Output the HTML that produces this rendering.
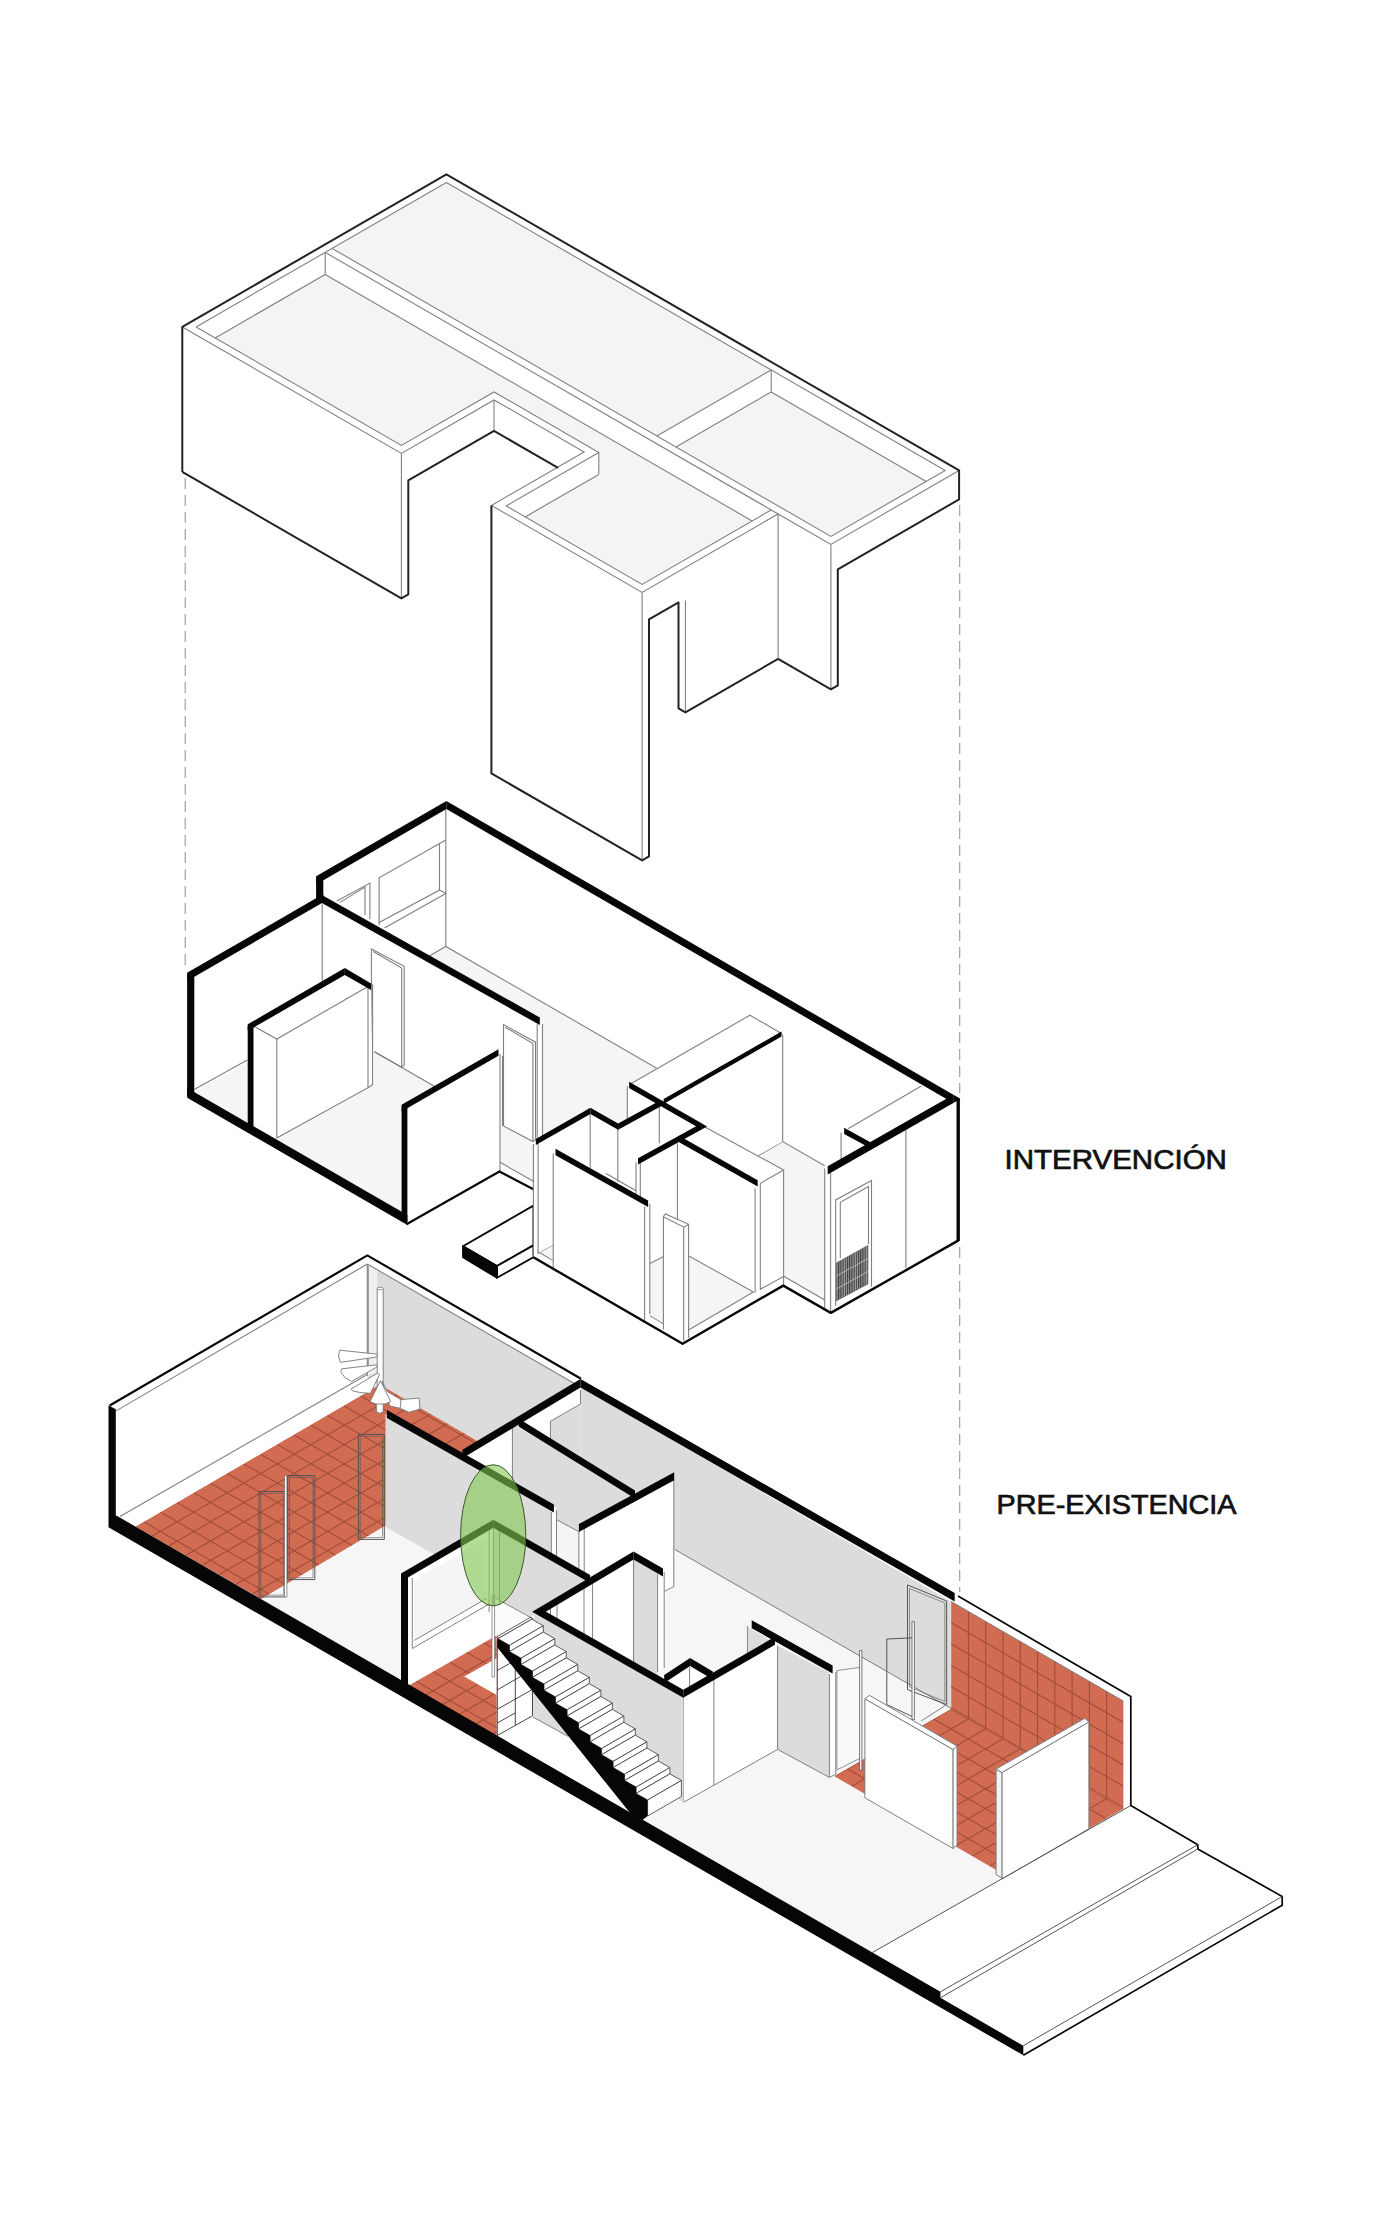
<!DOCTYPE html>
<html><head><meta charset="utf-8"><title>Axonometric</title>
<style>html,body{margin:0;padding:0;background:#fff}svg{display:block}text{font-family:"Liberation Sans",sans-serif}</style>
</head><body>
<svg width="1390" height="2229" viewBox="0 0 1390 2229">
<rect width="1390" height="2229" fill="#fff"/>
<polygon points="446.4,182.4 771.2,369.9 656.8,435.9 332.1,248.4" fill="#f4f4f4" stroke="none" stroke-width="1" />
<polygon points="771.2,391.9 926.2,481.4 830.9,536.4 675.9,446.9" fill="#f4f4f4" stroke="none" stroke-width="1" />
<polygon points="325.2,274.4 196.1,348.9 401.4,467.4 494,413.9 598.8,474.4 506.2,527.9 642.1,606.4 771.2,531.9" fill="#f4f4f4" stroke="none" stroke-width="1" />
<polygon points="196.1,326.9 401.4,445.4 401.4,468.9 196.1,350.4" fill="#fff" stroke="none" stroke-width="1" />
<polygon points="401.4,445.4 494,391.9 494,415.4 401.4,468.9" fill="#fff" stroke="none" stroke-width="1" />
<polygon points="494,391.9 598.8,452.4 598.8,475.9 494,415.4" fill="#fff" stroke="none" stroke-width="1" />
<polygon points="506.2,505.9 642.1,584.4 642.1,607.9 506.2,529.4" fill="#fff" stroke="none" stroke-width="1" />
<polygon points="642.1,584.4 771.2,509.9 771.2,533.4 642.1,607.9" fill="#fff" stroke="none" stroke-width="1" />
<polygon points="492.3,505.9 642.1,592.4 642.1,860.4 492.3,773.9" fill="#fff" stroke="none" stroke-width="1" />
<polyline points="182.3,326.9 401.4,453.4 494,399.9 584.1,451.9 491.4,505.4 642.1,592.4 778.1,513.9 830.9,544.4 959.1,470.4" fill="none" stroke="#808080" stroke-width="1.1" />
<polyline points="446.4,182.4 945.2,470.4 830.9,536.4 332.1,248.4" fill="none" stroke="#808080" stroke-width="1.1" />
<polyline points="196.1,326.9 446.4,182.4" fill="none" stroke="#808080" stroke-width="1.1" />
<polyline points="771.2,369.9 656.8,435.9" fill="none" stroke="#808080" stroke-width="1.1" />
<polyline points="771.2,369.9 771.2,391.9" fill="none" stroke="#808080" stroke-width="1.1" />
<polyline points="771.2,391.9 675.9,446.9" fill="none" stroke="#808080" stroke-width="1.1" />
<polyline points="771.2,391.9 926.2,481.4" fill="none" stroke="#808080" stroke-width="1.1" />
<polyline points="325.2,252.4 778.1,513.9" fill="none" stroke="#808080" stroke-width="1.1" />
<polyline points="325.2,252.4 325.2,274.4" fill="none" stroke="#808080" stroke-width="1.1" />
<polyline points="325.2,274.4 752.1,520.9" fill="none" stroke="#808080" stroke-width="1.1" />
<polyline points="325.2,274.4 215.2,337.9" fill="none" stroke="#808080" stroke-width="1.1" />
<polyline points="196.1,326.9 401.4,445.4 494,391.9 598.8,452.4 506.2,505.9 642.1,584.4 771.2,509.9" fill="none" stroke="#808080" stroke-width="1.1" />
<polyline points="598.8,452.4 598.8,474.4" fill="none" stroke="#808080" stroke-width="1.1" />
<polyline points="598.8,474.4 525.2,516.9" fill="none" stroke="#808080" stroke-width="1.1" />
<polyline points="401.4,453.4 401.4,598.4" fill="none" stroke="#808080" stroke-width="1.1" />
<polyline points="494,399.9 494,430.9" fill="none" stroke="#808080" stroke-width="1.1" />
<polyline points="642.1,592.4 642.1,860.4" fill="none" stroke="#808080" stroke-width="1.1" />
<polyline points="778.1,513.9 778.1,658.9" fill="none" stroke="#808080" stroke-width="1.1" />
<polyline points="830.9,544.4 830.9,689.4" fill="none" stroke="#808080" stroke-width="1.1" />
<polyline points="685.4,600.4 685.4,712.4" fill="none" stroke="#808080" stroke-width="1.1" />
<polyline points="182.3,471.9 182.3,326.9 446.4,174.4 959.1,470.4 959.1,499.4 837.8,569.4 837.8,685.4 830.9,689.4 778.1,658.9" fill="none" stroke="#222" stroke-width="2" stroke-linejoin="round"/>
<polyline points="182.3,471.9 401.4,598.4 408.3,594.4 408.3,480.4 494,430.9 558.1,467.9" fill="none" stroke="#222" stroke-width="2" stroke-linejoin="round"/>
<polyline points="491.4,505.4 491.4,773.4 642.1,860.4 649,856.4 649,619.4 679,602.1" fill="none" stroke="#222" stroke-width="2" stroke-linejoin="round"/>
<polyline points="678.5,602.1 678.5,708.4 685.4,712.4 778.1,658.9" fill="none" stroke="#222" stroke-width="2" stroke-linejoin="round"/>
<polyline points="185.2,478 185.2,966" fill="none" stroke="#999" stroke-width="1.1" stroke-dasharray="11 6"/>
<polyline points="959.7,505 959.7,1093" fill="none" stroke="#999" stroke-width="1.1" stroke-dasharray="11 6"/>
<polygon points="118,1517.5 367.3,1375 951.3,1709 1123.4,1808.2 1130.2,1806 871.5,1953" fill="#f6f6f6" stroke="none" stroke-width="1" />
<polygon points="135.4,1526.6 379.9,1384.6 503.5,1455.9 261,1599" fill="#d16b52" stroke="none" stroke-width="1" />
<clipPath id="cR1"><polygon points="135.4,1526.6 379.9,1384.6 503.5,1455.9 261,1599"/></clipPath>
<g clip-path="url(#cR1)" stroke="#a04e3a" stroke-width="1.1" fill="none">
<line x1="143.7" y1="1521.8" x2="490.1" y2="1721.8"/>
<line x1="160.4" y1="1512.1" x2="506.8" y2="1712.1"/>
<line x1="177.1" y1="1502.5" x2="523.6" y2="1702.5"/>
<line x1="193.9" y1="1492.8" x2="540.3" y2="1692.8"/>
<line x1="210.6" y1="1483.2" x2="557" y2="1683.2"/>
<line x1="227.3" y1="1473.5" x2="573.7" y2="1673.5"/>
<line x1="244" y1="1463.9" x2="590.4" y2="1663.9"/>
<line x1="260.7" y1="1454.2" x2="607.1" y2="1654.2"/>
<line x1="277.4" y1="1444.6" x2="623.8" y2="1644.6"/>
<line x1="294.1" y1="1434.9" x2="640.6" y2="1634.9"/>
<line x1="310.9" y1="1425.3" x2="657.3" y2="1625.3"/>
<line x1="327.6" y1="1415.6" x2="674" y2="1615.6"/>
<line x1="344.3" y1="1406" x2="690.7" y2="1606"/>
<line x1="361" y1="1396.3" x2="707.4" y2="1596.3"/>
<line x1="377.7" y1="1386.7" x2="724.1" y2="1586.7"/>
<line x1="394.4" y1="1377" x2="740.8" y2="1577"/>
<line x1="152.1" y1="1536.2" x2="498.5" y2="1336.2"/>
<line x1="168.8" y1="1545.9" x2="515.2" y2="1345.9"/>
<line x1="185.5" y1="1555.5" x2="532" y2="1355.5"/>
<line x1="202.3" y1="1565.2" x2="548.7" y2="1365.2"/>
<line x1="219" y1="1574.8" x2="565.4" y2="1374.8"/>
<line x1="235.7" y1="1584.5" x2="582.1" y2="1384.5"/>
<line x1="252.4" y1="1594.1" x2="598.8" y2="1394.1"/>
<line x1="269.1" y1="1603.8" x2="615.5" y2="1403.8"/>
</g>
<polygon points="109.7,1405.5 367.3,1255.4 367.3,1264 116.2,1410.9" fill="#fff" stroke="none" stroke-width="1" />
<polygon points="115.1,1411 367.3,1264 367.3,1374.2 120,1517" fill="#fff" stroke="none" stroke-width="1" />
<polyline points="116.2,1410.9 367.3,1264" fill="none" stroke="#808080" stroke-width="1.1" />
<polygon points="120,1517 367.6,1374.2 367.6,1391.7 135.4,1526.6 128,1522.5" fill="#fff" stroke="none" stroke-width="1" />
<polyline points="120,1516.6 367.6,1374.2" fill="none" stroke="#808080" stroke-width="1.1" />
<polygon points="367.3,1264 951.2,1601.5 951.2,1709 580,1496 580,1500 367.3,1377.3" fill="#dcdcdc" stroke="none" stroke-width="1" />
<polygon points="367.3,1264 377.2,1269.7 377.2,1372 367.3,1376" fill="#f0f0f0" stroke="none" stroke-width="1" />
<polyline points="368.4,1266 368.4,1372" fill="none" stroke="#808080" stroke-width="0.8" />
<polyline points="367.3,1264 367.3,1376" fill="none" stroke="#808080" stroke-width="1.1" />
<polygon points="367.3,1255.4 581,1378.7 580,1386.8 367.3,1264" fill="#fff" stroke="none" stroke-width="1" />
<polyline points="367.3,1264 580,1386.8" fill="none" stroke="#808080" stroke-width="1.1" />
<polyline points="674.9,1549.5 951.3,1708.5" fill="none" stroke="#808080" stroke-width="1" />
<polygon points="959.3,1596.4 1130.8,1696.5 1123.4,1701.1 951.2,1601.5" fill="#fff" stroke="none" stroke-width="1" />
<polygon points="951.2,1601.5 1123.4,1701.1 1123.4,1808.2 951.2,1708.9" fill="#d16b52" stroke="none" stroke-width="1" />
<clipPath id="cWF"><polygon points="951.2,1601.5 1123.4,1701.1 1123.4,1808.2 951.2,1708.9"/></clipPath>
<g clip-path="url(#cWF)" stroke="#a04e3a" stroke-width="1.1" fill="none">
<line x1="968.5" y1="1590" x2="968.5" y2="1820"/>
<line x1="985.7" y1="1590" x2="985.7" y2="1820"/>
<line x1="1003" y1="1590" x2="1003" y2="1820"/>
<line x1="1020.3" y1="1590" x2="1020.3" y2="1820"/>
<line x1="1037.5" y1="1590" x2="1037.5" y2="1820"/>
<line x1="1054.8" y1="1590" x2="1054.8" y2="1820"/>
<line x1="1072.1" y1="1590" x2="1072.1" y2="1820"/>
<line x1="1089.4" y1="1590" x2="1089.4" y2="1820"/>
<line x1="1106.6" y1="1590" x2="1106.6" y2="1820"/>
<line x1="951.2" y1="1622.8" x2="1123.4" y2="1722.4"/>
<line x1="951.2" y1="1644.1" x2="1123.4" y2="1743.7"/>
<line x1="951.2" y1="1665.4" x2="1123.4" y2="1765"/>
<line x1="951.2" y1="1686.7" x2="1123.4" y2="1786.3"/>
<line x1="951.2" y1="1708" x2="1123.4" y2="1807.6"/>
</g>
<polyline points="951.2,1601.5 1123.4,1701.1 1123.4,1808.2" fill="none" stroke="#808080" stroke-width="1" />
<polygon points="951.3,1708.9 1123.4,1808.5 1006.6,1875.9 834.5,1776.3" fill="#d16b52" stroke="none" stroke-width="1" />
<clipPath id="cR3"><polygon points="951.3,1708.9 1123.4,1808.5 1006.6,1875.9 834.5,1776.3"/></clipPath>
<g clip-path="url(#cR3)" stroke="#a04e3a" stroke-width="1.1" fill="none">
<line x1="847.4" y1="1768.8" x2="1193.8" y2="1968.8"/>
<line x1="864.7" y1="1758.9" x2="1211.1" y2="1958.9"/>
<line x1="881.9" y1="1748.9" x2="1228.4" y2="1948.9"/>
<line x1="899.2" y1="1738.9" x2="1245.6" y2="1938.9"/>
<line x1="916.5" y1="1729" x2="1262.9" y2="1929"/>
<line x1="933.7" y1="1719" x2="1280.2" y2="1919"/>
<line x1="951" y1="1709" x2="1297.4" y2="1909"/>
<line x1="834.5" y1="1776.3" x2="1180.9" y2="1576.3"/>
<line x1="851.8" y1="1786.3" x2="1198.2" y2="1586.3"/>
<line x1="869" y1="1796.2" x2="1215.4" y2="1596.2"/>
<line x1="886.3" y1="1806.2" x2="1232.7" y2="1606.2"/>
<line x1="903.6" y1="1816.2" x2="1250" y2="1616.2"/>
<line x1="920.8" y1="1826.1" x2="1267.3" y2="1626.1"/>
<line x1="938.1" y1="1836.1" x2="1284.5" y2="1636.1"/>
<line x1="955.4" y1="1846.1" x2="1301.8" y2="1646.1"/>
<line x1="972.6" y1="1856.1" x2="1319.1" y2="1656.1"/>
<line x1="989.9" y1="1866" x2="1336.3" y2="1666"/>
<line x1="1007.2" y1="1876" x2="1353.6" y2="1676"/>
</g>
<polygon points="1123.4,1701.1 1130.8,1696.5 1130.8,1805 1123.4,1808.2" fill="#fff" stroke="none" stroke-width="1" />
<polygon points="462.4,1452.9 580.5,1383.3 580.5,1500 462.4,1568" fill="#fff" stroke="none" stroke-width="1" />
<polygon points="550.4,1421.3 580.5,1404 580.5,1500 550.4,1480" fill="#dcdcdc" stroke="none" stroke-width="1" />
<polyline points="550.4,1440 550.4,1421.3 580.5,1404 580.5,1390" fill="none" stroke="#808080" stroke-width="1" />
<polygon points="512.4,1424 635,1494 635,1600 512.4,1530" fill="#dcdcdc" stroke="none" stroke-width="1" />
<polygon points="556.5,1519.7 578.9,1531.6 578.9,1580 556.5,1568" fill="#f5f5f5" stroke="none" stroke-width="1" />
<polyline points="556.5,1519.7 578.9,1531.6" fill="none" stroke="#808080" stroke-width="1" />
<polyline points="512.4,1427.8 512.4,1480" fill="none" stroke="#808080" stroke-width="1" />
<polygon points="385.5,1414 553.9,1508.6 553.9,1622 385.5,1527" fill="#dcdcdc" stroke="none" stroke-width="1" />
<polygon points="551.3,1510 556.5,1507 556.5,1620 551.3,1623" fill="#fff" stroke="none" stroke-width="1" />
<polyline points="551.3,1512 551.3,1623" fill="none" stroke="#808080" stroke-width="1" />
<polyline points="556.5,1510 556.5,1620" fill="none" stroke="#808080" stroke-width="1" />
<polygon points="578.9,1528 673.8,1478 673.8,1586.6 666.3,1590.3 666.3,1600 578.9,1645" fill="#fff" stroke="none" stroke-width="1" />
<polyline points="584.2,1528 584.2,1640" fill="none" stroke="#808080" stroke-width="1" />
<polyline points="578.9,1531 578.9,1640" fill="none" stroke="#808080" stroke-width="1" />
<polyline points="673.8,1480 673.8,1586.6 664.2,1591.5" fill="none" stroke="#808080" stroke-width="1" />
<polygon points="493.4,1523.7 590.1,1578.9 590.1,1648 534.3,1619.5 493.4,1597" fill="#dcdcdc" stroke="none" stroke-width="1" />
<polygon points="493.4,1597 536,1620.5 536,1614 497.3,1637 493.4,1637" fill="#fbfbfb" stroke="none" stroke-width="1" />
<polyline points="493.4,1597 534.3,1619.5" fill="none" stroke="#808080" stroke-width="0.9" />
<polygon points="404.5,1575.5 493.4,1523.7 493.4,1637 408,1686.5" fill="#fff" stroke="none" stroke-width="1" />
<polygon points="414.4,1580 486.7,1538 486.7,1598.3 414.4,1640.4" fill="#f5f5f5" stroke="none" stroke-width="1" />
<polyline points="412.3,1578 412.3,1648.5 488.9,1604.2" fill="none" stroke="#808080" stroke-width="1" />
<polyline points="414.4,1640.4 486.7,1598.3" fill="none" stroke="#808080" stroke-width="1" />
<polyline points="489.1,1528 489.1,1612" fill="none" stroke="#808080" stroke-width="1" />
<polyline points="493.4,1528 493.4,1640" fill="none" stroke="#808080" stroke-width="1" />
<polyline points="499.5,1530 499.5,1605" fill="none" stroke="#808080" stroke-width="1" />
<polygon points="539,1611.5 633.5,1555.5 633.5,1668 539,1722" fill="#fff" stroke="none" stroke-width="1" />
<polygon points="633.5,1555.5 657.6,1569.5 657.6,1675 633.5,1661" fill="#dcdcdc" stroke="none" stroke-width="1" />
<polygon points="657.6,1572 664.2,1568.5 664.2,1668 657.6,1672" fill="#fff" stroke="none" stroke-width="1" />
<polyline points="550.5,1608 550.5,1625" fill="none" stroke="#808080" stroke-width="1" />
<polyline points="557,1604 557,1628" fill="none" stroke="#808080" stroke-width="1" />
<polyline points="584,1588 584,1643" fill="none" stroke="#808080" stroke-width="1" />
<polyline points="592.6,1583 592.6,1648" fill="none" stroke="#808080" stroke-width="1" />
<polyline points="633.6,1560 633.6,1668" fill="none" stroke="#808080" stroke-width="1" />
<polyline points="657.6,1574 657.6,1672" fill="none" stroke="#808080" stroke-width="1" />
<polyline points="664.2,1572 664.2,1668" fill="none" stroke="#808080" stroke-width="1" />
<polygon points="534.3,1611.4 683.7,1695 683.7,1802.2 534.3,1716" fill="#dcdcdc" stroke="none" stroke-width="1" />
<polyline points="683.7,1697 683.7,1802.2" fill="none" stroke="#808080" stroke-width="1" />
<polygon points="683.7,1695 777.6,1641 777.6,1749.4 683.7,1802.2" fill="#fff" stroke="none" stroke-width="1" />
<polyline points="713.9,1678 713.9,1785" fill="none" stroke="#808080" stroke-width="1" />
<polyline points="683.7,1802.2 777.6,1749.4" fill="none" stroke="#808080" stroke-width="1" />
<polygon points="748.4,1627.4 771,1640.5 748.4,1653" fill="#dcdcdc" stroke="none" stroke-width="1" />
<polyline points="747.6,1626 747.6,1655" fill="none" stroke="#808080" stroke-width="1" />
<polygon points="777.6,1645.8 829.4,1672.7 829.4,1777.4 777.6,1749.4" fill="#dcdcdc" stroke="none" stroke-width="1" />
<polyline points="777.6,1645.8 777.6,1749.4 829.4,1777.4" fill="none" stroke="#808080" stroke-width="1" />
<polygon points="829.4,1672.7 835.8,1669.5 835.8,1774.2 829.4,1777.4" fill="#fff" stroke="none" stroke-width="1" />
<polyline points="829.4,1674 829.4,1777.4 835.8,1774.2 835.8,1672" fill="none" stroke="#808080" stroke-width="1" />
<polygon points="664.2,1679 690.1,1662 712.8,1675.5 686,1691" fill="#fff" stroke="none" stroke-width="1" />
<polyline points="689.6,1667 689.6,1688" fill="none" stroke="#808080" stroke-width="1" />
<polygon points="408,1686 496.6,1635.5 496.6,1737" fill="#d16b52" stroke="none" stroke-width="1" />
<clipPath id="cR2"><polygon points="408,1686 496.6,1635.5 496.6,1737"/></clipPath>
<g clip-path="url(#cR2)" stroke="#a04e3a" stroke-width="1.1" fill="none">
<line x1="416.3" y1="1681.2" x2="762.7" y2="1881.2"/>
<line x1="433" y1="1671.5" x2="779.4" y2="1871.5"/>
<line x1="449.7" y1="1661.9" x2="796.2" y2="1861.9"/>
<line x1="466.5" y1="1652.2" x2="812.9" y2="1852.2"/>
<line x1="483.2" y1="1642.6" x2="829.6" y2="1842.6"/>
<line x1="499.9" y1="1633" x2="846.3" y2="1833"/>
<line x1="516.6" y1="1623.3" x2="863" y2="1823.3"/>
<line x1="533.3" y1="1613.7" x2="879.7" y2="1813.7"/>
<line x1="424.7" y1="1695.7" x2="771.1" y2="1495.7"/>
<line x1="441.4" y1="1705.3" x2="787.8" y2="1505.3"/>
<line x1="458.1" y1="1715" x2="804.6" y2="1515"/>
<line x1="474.9" y1="1724.6" x2="821.3" y2="1524.6"/>
<line x1="491.6" y1="1734.2" x2="838" y2="1534.2"/>
<line x1="508.3" y1="1743.9" x2="854.7" y2="1543.9"/>
<line x1="525" y1="1753.5" x2="871.4" y2="1553.5"/>
<line x1="541.7" y1="1763.2" x2="888.1" y2="1563.2"/>
</g>
<polygon points="464.2,1676.6 496.6,1658.2 496.6,1694.9" fill="#fff" stroke="none" stroke-width="1" />
<polygon points="497.3,1735.5 532.5,1715.8 568.5,1736.6 631.1,1814.3 636,1822 497.3,1741" fill="#fff" stroke="none" stroke-width="1" />
<polygon points="497.3,1640 532.5,1691.3 532.5,1715.8 497.3,1735.5" fill="#fff" stroke="none" stroke-width="1" />
<polyline points="497.3,1640 497.3,1735.5 532.5,1715.8 532.5,1690" fill="none" stroke="#333" stroke-width="0.9" />
<polyline points="497.3,1670.4 515.3,1660.4" fill="none" stroke="#333" stroke-width="0.9" />
<polyline points="497.3,1689.9 520.6,1676.5" fill="none" stroke="#333" stroke-width="0.9" />
<polyline points="497.3,1709.3 532.5,1689.4" fill="none" stroke="#333" stroke-width="0.9" />
<polyline points="497.3,1723 515.3,1712.9" fill="none" stroke="#333" stroke-width="0.9" />
<polyline points="515.3,1668 515.3,1725.2" fill="none" stroke="#333" stroke-width="0.9" />
<polygon points="533.2,1692 568.5,1736.6 533.2,1717.2" fill="#dcdcdc" stroke="none" stroke-width="1" />
<polyline points="533.2,1717.2 568.5,1736.6" fill="none" stroke="#808080" stroke-width="1" />
<polygon points="497.3,1636.5 531.1,1617 531.8,1619.2 498,1638.7" fill="#fff" stroke="#3a3a3a" stroke-width="0.8" />
<polygon points="498,1638.7 531.8,1619.2 543.3,1625.8 509.5,1645.3" fill="#fff" stroke="#3a3a3a" stroke-width="0.8" />
<polygon points="509.5,1645.3 543.3,1625.8 543.3,1632.1 509.5,1651.6" fill="#fff" stroke="#3a3a3a" stroke-width="0.8" />
<polygon points="509.5,1651.6 543.3,1632.1 554.8,1638.7 521,1658.2" fill="#fff" stroke="#3a3a3a" stroke-width="0.8" />
<polygon points="521,1658.2 554.8,1638.7 554.8,1645 521,1664.5" fill="#fff" stroke="#3a3a3a" stroke-width="0.8" />
<polygon points="521,1664.5 554.8,1645 566.3,1651.6 532.5,1671.1" fill="#fff" stroke="#3a3a3a" stroke-width="0.8" />
<polygon points="532.5,1671.1 566.3,1651.6 566.3,1657.9 532.5,1677.4" fill="#fff" stroke="#3a3a3a" stroke-width="0.8" />
<polygon points="532.5,1677.4 566.3,1657.9 577.8,1664.5 544,1684" fill="#fff" stroke="#3a3a3a" stroke-width="0.8" />
<polygon points="544,1684 577.8,1664.5 577.8,1670.8 544,1690.3" fill="#fff" stroke="#3a3a3a" stroke-width="0.8" />
<polygon points="544,1690.3 577.8,1670.8 589.3,1677.4 555.5,1696.9" fill="#fff" stroke="#3a3a3a" stroke-width="0.8" />
<polygon points="555.5,1696.9 589.3,1677.4 589.3,1683.7 555.5,1703.2" fill="#fff" stroke="#3a3a3a" stroke-width="0.8" />
<polygon points="555.5,1703.2 589.3,1683.7 600.9,1690.3 567.1,1709.8" fill="#fff" stroke="#3a3a3a" stroke-width="0.8" />
<polygon points="567.1,1709.8 600.9,1690.3 600.9,1696.5 567.1,1716" fill="#fff" stroke="#3a3a3a" stroke-width="0.8" />
<polygon points="567.1,1716 600.9,1696.5 612.4,1703.2 578.6,1722.7" fill="#fff" stroke="#3a3a3a" stroke-width="0.8" />
<polygon points="578.6,1722.7 612.4,1703.2 612.4,1709.4 578.6,1728.9" fill="#fff" stroke="#3a3a3a" stroke-width="0.8" />
<polygon points="578.6,1728.9 612.4,1709.4 623.9,1716.1 590.1,1735.6" fill="#fff" stroke="#3a3a3a" stroke-width="0.8" />
<polygon points="590.1,1735.6 623.9,1716.1 623.9,1722.3 590.1,1741.8" fill="#fff" stroke="#3a3a3a" stroke-width="0.8" />
<polygon points="590.1,1741.8 623.9,1722.3 635.4,1729 601.6,1748.5" fill="#fff" stroke="#3a3a3a" stroke-width="0.8" />
<polygon points="601.6,1748.5 635.4,1729 635.4,1735.2 601.6,1754.7" fill="#fff" stroke="#3a3a3a" stroke-width="0.8" />
<polygon points="601.6,1754.7 635.4,1735.2 646.9,1741.9 613.1,1761.4" fill="#fff" stroke="#3a3a3a" stroke-width="0.8" />
<polygon points="613.1,1761.4 646.9,1741.9 646.9,1748.1 613.1,1767.6" fill="#fff" stroke="#3a3a3a" stroke-width="0.8" />
<polygon points="613.1,1767.6 646.9,1748.1 658.4,1754.7 624.6,1774.2" fill="#fff" stroke="#3a3a3a" stroke-width="0.8" />
<polygon points="624.6,1774.2 658.4,1754.7 658.4,1761 624.6,1780.5" fill="#fff" stroke="#3a3a3a" stroke-width="0.8" />
<polygon points="624.6,1780.5 658.4,1761 669.9,1767.6 636.1,1787.1" fill="#fff" stroke="#3a3a3a" stroke-width="0.8" />
<polygon points="636.1,1787.1 669.9,1767.6 669.9,1773.9 636.1,1793.4" fill="#fff" stroke="#3a3a3a" stroke-width="0.8" />
<polygon points="636.1,1793.4 669.9,1773.9 681.4,1780.5 647.6,1800" fill="#fff" stroke="#3a3a3a" stroke-width="0.8" />
<polygon points="647.6,1800 681.4,1780.5 681.4,1796.5 647.6,1816" fill="#fff" stroke="#3a3a3a" stroke-width="0.8" />
<polygon points="497.3,1636.5 498,1638.7 509.5,1645.3 509.5,1651.6 521,1658.2 521,1664.5 532.5,1671.1 532.5,1677.4 544,1684 544,1690.3 555.5,1696.9 555.5,1703.2 567.1,1709.8 567.1,1716 578.6,1722.7 578.6,1728.9 590.1,1735.6 590.1,1741.8 601.6,1748.5 601.6,1754.7 613.1,1761.4 613.1,1767.6 624.6,1774.2 624.6,1780.5 636.1,1787.1 636.1,1793.4 647.6,1800 647.6,1816 640,1822 631.1,1814.3 497.3,1647.4" fill="#060606" stroke="none" stroke-width="1" />
<polygon points="907.5,1584.9 946.6,1601 946.6,1704.6 907.5,1689.6" fill="none" stroke="#555" stroke-width="1" />
<polygon points="909.5,1588.5 944.8,1603 944.8,1701.5 909.5,1687" fill="none" stroke="#555" stroke-width="0.6" />
<polyline points="946.6,1704.6 921.3,1721" fill="none" stroke="#808080" stroke-width="1" />
<polygon points="886.8,1639 913.2,1637.8 913.2,1717 886.8,1704.6" fill="none" stroke="#555" stroke-width="1" />
<polygon points="912,1621.7 914.4,1621.7 914.4,1719.6 912,1719.6" fill="#fff" stroke="#555" stroke-width="0.8" />
<polygon points="836.9,1670.6 860.7,1667.3 860.7,1758 836.9,1769.9" fill="#f9f9f9" stroke="#777" stroke-width="0.8" />
<polygon points="859.6,1650.5 861.9,1650.5 861.9,1770.2 859.6,1770.2" fill="#fff" stroke="#555" stroke-width="0.8" />
<polygon points="864.9,1698.8 953.1,1749.5 953.1,1848.5 864.9,1797.8" fill="#fff" stroke="#808080" stroke-width="1" />
<polygon points="953.1,1749.5 957,1746 957,1845 953.1,1848.5" fill="#fff" stroke="#808080" stroke-width="1" />
<polygon points="864.9,1698.8 869.5,1695.4 957,1746 953.1,1749.5" fill="#fff" stroke="#808080" stroke-width="1" />
<polygon points="1001.9,1772.5 1088.9,1721.9 1088.9,1828.8 1001.9,1879" fill="#fff" stroke="#808080" stroke-width="1" />
<polygon points="996.1,1769.1 1001.9,1772.5 1001.9,1878 996.1,1874.7" fill="#f4f4f4" stroke="#808080" stroke-width="1" />
<polygon points="996.1,1769.1 1084.7,1718.4 1088.9,1721.9 1001.9,1772.5" fill="#fff" stroke="#808080" stroke-width="1" />
<polygon points="386.9,1410 553.9,1504.6 553.9,1512.6 386.9,1418" fill="#060606" stroke="none" stroke-width="1" />
<polygon points="462.4,1449.8 580.5,1379.1 580.5,1387.5 462.4,1458.2" fill="#060606" stroke="none" stroke-width="1" />
<polygon points="580.5,1379.1 954.7,1593 954.7,1601.4 580.5,1387.5" fill="#060606" stroke="none" stroke-width="1" />
<polygon points="518.5,1418.5 635,1490.5 635,1498.5 518.5,1426.5" fill="#060606" stroke="none" stroke-width="1" />
<polygon points="578.9,1524 674.2,1472.2 674.2,1480.2 578.9,1532" fill="#060606" stroke="none" stroke-width="1" />
<polygon points="401,1575.5 408,1575.5 408,1690 401,1690" fill="#060606" stroke="none" stroke-width="1" />
<polygon points="401,1573.5 493.4,1519.7 493.4,1527.7 401,1581.5" fill="#060606" stroke="none" stroke-width="1" />
<polygon points="493.4,1519.7 590.1,1574.9 590.1,1582.9 493.4,1527.7" fill="#060606" stroke="none" stroke-width="1" />
<polygon points="539,1607.8 633.5,1551.5 633.5,1559.5 539,1615.8" fill="#060606" stroke="none" stroke-width="1" />
<polygon points="633.5,1551.5 663,1568.5 663,1576.5 633.5,1559.5" fill="#060606" stroke="none" stroke-width="1" />
<polygon points="539,1607.8 683.7,1690 683.7,1698 539,1615.8" fill="#060606" stroke="none" stroke-width="1" />
<polygon points="539,1607.8 532.1,1611.8 539,1615.8" fill="#060606" stroke="none" stroke-width="1" />
<polygon points="683.7,1689.5 775,1636.8 775,1644.8 683.7,1697.5" fill="#060606" stroke="none" stroke-width="1" />
<polygon points="664.2,1675 690.1,1658 690.1,1666 664.2,1683" fill="#060606" stroke="none" stroke-width="1" />
<polygon points="690.1,1658 712.8,1671.5 712.8,1679.5 690.1,1666" fill="#060606" stroke="none" stroke-width="1" />
<polygon points="751.7,1620.2 832.6,1665.5 832.6,1673.5 751.7,1628.2" fill="#060606" stroke="none" stroke-width="1" />
<polygon points="108.5,1405.3 115.8,1409.3 115.8,1520 108.5,1527.3" fill="#060606" stroke="none" stroke-width="1" />
<polygon points="115.8,1515.2 940.4,1991.8 940.4,1997.8 1023.3,2045.7 1023.3,2055.3 108.5,1527.3" fill="#060606" stroke="none" stroke-width="1" />
<polyline points="109.7,1405.5 367.3,1255.4 581,1378.7" fill="none" stroke="#060606" stroke-width="2.2" stroke-linejoin="miter"/>
<polyline points="958,1596 1130.8,1696.5 1130.8,1805.5 1197.8,1844.7 1197.8,1849 1282.2,1896.5 1282.2,1905.2 1023.3,2055.3" fill="none" stroke="#060606" stroke-width="1.7" stroke-linejoin="miter"/>
<polyline points="1130.2,1805.9 871.5,1953" fill="none" stroke="#555" stroke-width="1" />
<polyline points="1197.8,1844.7 940.4,1991.8" fill="none" stroke="#555" stroke-width="1" />
<polyline points="1197.8,1849 940.4,1997.8" fill="none" stroke="#555" stroke-width="1" />
<polyline points="1282.2,1896.5 1023.3,2045.7" fill="none" stroke="#555" stroke-width="1" />
<polygon points="259.1,1491.5 285.5,1491.5 285.5,1596.9 259.1,1596.9" fill="none" stroke="#555" stroke-width="1.0" />
<polygon points="260.9,1493.3 283.7,1493.3 283.7,1595.1 260.9,1595.1" fill="none" stroke="#555" stroke-width="0.6" />
<polygon points="287.6,1475.5 314.8,1475.5 314.8,1579.6 287.6,1579.6" fill="none" stroke="#555" stroke-width="1.0" />
<polygon points="289.4,1477.3 313,1477.3 313,1577.8 289.4,1577.8" fill="none" stroke="#555" stroke-width="0.6" />
<polygon points="284.5,1475.6 286.9,1475.6 286.9,1597 284.5,1597" fill="#fff" stroke="#666" stroke-width="0.7" />
<polygon points="358.4,1434.4 384.3,1434.4 384.3,1539.4 358.4,1539.4" fill="none" stroke="#555" stroke-width="1.0" />
<polygon points="360.2,1436.2 382.5,1436.2 382.5,1537.6 360.2,1537.6" fill="none" stroke="#555" stroke-width="0.6" />
<polygon points="377.2,1288.5 383.2,1288.5 383.2,1404 377.2,1404" fill="#fff" stroke="#777" stroke-width="0.9" />
<ellipse cx="380.2" cy="1288.5" rx="3" ry="1.3" fill="#fff" stroke="#777" stroke-width="0.8"/>
<polygon points="339.6,1350.2 377.2,1354.1 377.2,1356.9 340.4,1362.4 338.5,1356.1" fill="#fff" stroke="#777" stroke-width="0.9" stroke-linejoin="round"/>
<polygon points="341.6,1368.8 377.2,1364.8 377.2,1366.8 351.5,1381.4 344.8,1377.5 340.8,1371.9" fill="#fff" stroke="#777" stroke-width="0.9" stroke-linejoin="round"/>
<polygon points="351.1,1389 377.6,1373.1 379.6,1374.3 370.5,1393.3 359.8,1392.5 352.7,1390.9" fill="#fff" stroke="#777" stroke-width="0.9" stroke-linejoin="round"/>
<polygon points="382,1381.4 387.5,1391.7 408.9,1404.4 400.2,1408.3 389.9,1406" fill="#fff" stroke="#777" stroke-width="0.9" stroke-linejoin="round"/>
<polygon points="401,1399.6 419.2,1398.1 420,1409.1 408.9,1412.3 400.2,1408.3" fill="#fff" stroke="#777" stroke-width="0.9" stroke-linejoin="round"/>
<polygon points="376.4,1403 383.2,1403 383.2,1411.5 379.8,1413.5 376.4,1411.5" fill="#fff" stroke="#777" stroke-width="0.9" stroke-linejoin="round"/>
<polygon points="370.1,1401.6 380.4,1380.6 390.7,1401.6 385.1,1404 375.6,1404" fill="#fff" stroke="#777" stroke-width="0.9" stroke-linejoin="round"/>
<polygon points="492,1595 494.6,1595 494.6,1677 492,1677" fill="#fff" stroke="#777" stroke-width="0.8" />
<ellipse cx="493.2" cy="1535.3" rx="32.6" ry="70.6" fill="rgb(130,200,80)" fill-opacity="0.6" stroke="#3c5a2c" stroke-width="1"/>
<polyline points="493.3,1595 493.3,1606" fill="none" stroke="#7a9a60" stroke-width="0.8" />
<polyline points="959.7,1247 959.7,1592" fill="none" stroke="#999" stroke-width="1.1" stroke-dasharray="11 6"/>
<polygon points="445.8,946.5 656.7,1068.5 627.3,1085.5 627.3,1122 618.1,1126.7 590.4,1110.9 542.5,1138 542.5,1022.5 539.8,1021.2 425,958.5" fill="#f5f5f5" stroke="none" stroke-width="1" />
<polyline points="445.8,808.6 445.8,946.5" fill="none" stroke="#808080" stroke-width="1.1" />
<polyline points="445.8,840 379.1,877.7 379.1,925.2" fill="none" stroke="#808080" stroke-width="1.1" />
<polyline points="439.5,843.6 439.5,890.1 379.1,922.5" fill="none" stroke="#808080" stroke-width="1.1" />
<polyline points="439.5,890.1 445.8,893.4 384.5,927.9" fill="none" stroke="#808080" stroke-width="1.1" />
<polyline points="337,900.9 369.9,883.1 369.9,919.3" fill="none" stroke="#808080" stroke-width="1.1" />
<polyline points="339.7,902.6 365,887.1 365,915" fill="none" stroke="#808080" stroke-width="1.1" />
<polyline points="425,958.5 445.8,946.5 656.7,1068.2" fill="none" stroke="#808080" stroke-width="1.1" />
<polygon points="321,898.5 539.8,1021.2 539.8,1143.5 321,1020.8" fill="#fff" stroke="none" stroke-width="1" />
<polygon points="536.5,1022 542.5,1022 542.5,1140 536.5,1143" fill="#fff" stroke="none" stroke-width="1" />
<polygon points="190.7,1094 250.6,1060.5 250.6,1128.6" fill="#f5f5f5" stroke="none" stroke-width="1" />
<polygon points="276.8,1140 368,1087.8 374.5,1083 374.5,1051.7 436,1087.3 404.5,1105.4 404.5,1217.5" fill="#f5f5f5" stroke="none" stroke-width="1" />
<polygon points="500.1,1124 533.4,1141.8 533.4,1181.3 500.1,1162.3" fill="#f5f5f5" stroke="none" stroke-width="1" />
<polyline points="322.2,903.7 322.2,981" fill="none" stroke="#808080" stroke-width="1.1" />
<polyline points="194.7,1089.3 247.3,1060" fill="none" stroke="#808080" stroke-width="1.1" />
<polyline points="374.5,1051.7 436,1087.3" fill="none" stroke="#808080" stroke-width="1.1" />
<polyline points="371.4,1049.8 371.4,949 404.2,966.3 404.2,1064.7 401.7,1067.3 374.5,1051.7" fill="none" stroke="#808080" stroke-width="1.1" />
<polyline points="373.1,951.6 401.7,968 401.7,1067.3" fill="none" stroke="#808080" stroke-width="1.1" />
<polyline points="503.5,1126 503.5,1024.6 535.5,1042.2 535.5,1139.8 532.9,1141.5 503.5,1126" fill="none" stroke="#808080" stroke-width="1.1" />
<polyline points="505,1027.2 532.9,1043.5 532.9,1141.5" fill="none" stroke="#808080" stroke-width="1.1" />
<polyline points="537.2,1024 537.2,1141" fill="none" stroke="#808080" stroke-width="1.1" />
<polyline points="542.5,1024 542.5,1138" fill="none" stroke="#808080" stroke-width="1.1" />
<polyline points="500.1,1162.3 533.4,1181.3" fill="none" stroke="#808080" stroke-width="1.1" />
<polyline points="502.5,1056 502.5,1126" fill="none" stroke="#808080" stroke-width="1.1" />
<polygon points="250.6,1026 344.8,971.5 371.1,986.7 372.6,1084.7 368,1087.8 276.8,1138.8 250.6,1124" fill="#fff" stroke="none" stroke-width="1" />
<polyline points="254.8,1026.8 276.8,1039.1 368,986.5" fill="none" stroke="#808080" stroke-width="1.1" />
<polyline points="276.8,1039.1 276.8,1138.1 368,1087.8 368,985.7" fill="none" stroke="#808080" stroke-width="1.1" />
<polyline points="372.6,984.2 372.6,1084.7 368,1087.8" fill="none" stroke="#808080" stroke-width="1.1" />
<polygon points="247.7,1026 253.5,1026 253.5,1128 247.7,1128" fill="#060606" stroke="none" stroke-width="1" />
<polygon points="247.7,1024.3 344.8,968.1 344.8,974.9 247.7,1031" fill="#060606" stroke="none" stroke-width="1" />
<polygon points="344.8,968.1 371.1,983.4 371.1,990.1 344.8,974.9" fill="#060606" stroke="none" stroke-width="1" />
<polygon points="405,1106.5 500,1051.7 500,1171.5 405,1226.3" fill="#fff" stroke="none" stroke-width="1" />
<polyline points="500,1054 500,1171.5" fill="none" stroke="#808080" stroke-width="1.1" />
<polyline points="406.5,1224.3 499.4,1171.6 533.4,1189.2" fill="none" stroke="#060606" stroke-width="2.2" />
<polygon points="463,1246.2 533.4,1205.6 533.4,1245.4 497,1266" fill="#fff" stroke="#060606" stroke-width="1.8" stroke-linejoin="round"/>
<polygon points="497,1266 533.4,1245.4 533.4,1257.3 497,1277.8" fill="#fff" stroke="#060606" stroke-width="1.8" stroke-linejoin="round"/>
<polygon points="463,1246.2 497,1266 497,1277.8 463,1257.3" fill="#060606" stroke="#060606" stroke-width="1.8" stroke-linejoin="round"/>
<polygon points="758.5,1155.6 782.7,1141.6 824.7,1165.7 824.7,1300 783.6,1276.4 783.6,1170.1" fill="#f5f5f5" stroke="none" stroke-width="1" />
<polyline points="758.5,1155.6 782.7,1141.6 824.7,1165.7" fill="none" stroke="#808080" stroke-width="1.1" />
<polygon points="629.1,1084.9 749.9,1015.2 781.9,1033.7 782.7,1141.6 664,1208 627.3,1190" fill="#fff" stroke="none" stroke-width="1" />
<polyline points="630,1084.3 749.9,1015.2 781.9,1033.7" fill="none" stroke="#808080" stroke-width="1.1" />
<polyline points="782.7,1034.5 782.7,1141.6" fill="none" stroke="#808080" stroke-width="1.1" />
<polyline points="627.3,1086.3 627.3,1121" fill="none" stroke="#808080" stroke-width="1.1" />
<polygon points="533.4,1143 590.4,1110.9 618.1,1126.7 661,1103.2 661,1230 533.4,1257.3" fill="#fff" stroke="none" stroke-width="1" />
<polyline points="533.4,1144 533.4,1257.3" fill="none" stroke="#808080" stroke-width="1.1" />
<polyline points="538.1,1142 538.1,1254" fill="none" stroke="#808080" stroke-width="1.1" />
<polyline points="590.2,1114 590.2,1168" fill="none" stroke="#808080" stroke-width="1.1" />
<polyline points="617.8,1128.6 617.8,1182" fill="none" stroke="#808080" stroke-width="1.1" />
<polyline points="659.3,1107 659.3,1143.3" fill="none" stroke="#808080" stroke-width="1.1" />
<polyline points="538.1,1251.7 553.2,1260.5" fill="none" stroke="#808080" stroke-width="1.1" />
<polyline points="541.3,1251.7 553.2,1245.4" fill="none" stroke="#808080" stroke-width="1.1" />
<polygon points="541.3,1251.7 553.2,1245.4 553.2,1260.5" fill="#f5f5f5" stroke="none" stroke-width="1" />
<polygon points="638,1161.4 700.7,1127.4 757.7,1183.4 757.7,1292 683,1334 638,1310" fill="#fff" stroke="none" stroke-width="1" />
<polygon points="649.8,1263.4 677.4,1249.5 753.4,1292 683,1333.5 649.8,1314.5" fill="#f5f5f5" stroke="none" stroke-width="1" />
<polyline points="636,1162.5 636,1200" fill="none" stroke="#808080" stroke-width="1.1" />
<polyline points="640.3,1161.4 640.3,1205" fill="none" stroke="#808080" stroke-width="1.1" />
<polyline points="677.4,1143.3 677.4,1249.5" fill="none" stroke="#808080" stroke-width="1.1" />
<polyline points="649.8,1263.4 677.4,1249.5 753.4,1292 688.6,1330" fill="none" stroke="#808080" stroke-width="1.1" />
<polyline points="644.6,1312.6 663.6,1323.9" fill="none" stroke="#808080" stroke-width="1.1" />
<polyline points="606,1173.5 636,1190.8" fill="none" stroke="#808080" stroke-width="1.1" />
<polygon points="679.1,1139 705,1126.9 783.6,1170.1 783.6,1276.4 760.3,1289.3 755.1,1292.8 755.1,1186" fill="#fff" stroke="none" stroke-width="1" />
<polyline points="705,1126.9 783.6,1170.1 760.3,1183.4" fill="none" stroke="#808080" stroke-width="1.1" />
<polyline points="783.6,1170.1 783.6,1286.8" fill="none" stroke="#808080" stroke-width="1.1" />
<polyline points="760.3,1183.4 760.3,1289.3 783.6,1276.4" fill="none" stroke="#808080" stroke-width="1.1" />
<polyline points="755.1,1188.3 755.1,1292.8" fill="none" stroke="#808080" stroke-width="1.1" />
<polygon points="553.2,1152 648.1,1203.8 649.8,1203.9 649.8,1320 644.6,1321 553.2,1268.2" fill="#fff" stroke="none" stroke-width="1" />
<polyline points="553.2,1153.6 553.2,1268" fill="none" stroke="#808080" stroke-width="1.1" />
<polyline points="644.6,1206.5 644.6,1321" fill="none" stroke="#808080" stroke-width="1.1" />
<polyline points="649.8,1203.9 649.8,1314" fill="none" stroke="#808080" stroke-width="1.1" />
<polygon points="665.3,1213.9 688.6,1224.3 688.6,1338 683.4,1341.2 663.6,1329.8 663.2,1216.8" fill="#fff" stroke="none" stroke-width="1" />
<polyline points="663.2,1216.8 665.3,1213.9 688.6,1224.3 684,1227.2 663.2,1216.8" fill="none" stroke="#808080" stroke-width="1.1" />
<polyline points="663.4,1216.8 663.4,1329.5" fill="none" stroke="#808080" stroke-width="1.1" />
<polyline points="683.7,1227.2 683.7,1341" fill="none" stroke="#808080" stroke-width="1.1" />
<polyline points="688.6,1224.3 688.6,1338" fill="none" stroke="#808080" stroke-width="1.1" />
<polygon points="824.7,1168.4 953.4,1098.8 958.2,1098.8 958.2,1240.4 830.8,1312.9 824.7,1309.5" fill="#fff" stroke="none" stroke-width="1" />
<polyline points="824.7,1168.4 824.7,1309" fill="none" stroke="#808080" stroke-width="1.1" />
<polyline points="830.6,1172 830.6,1313" fill="none" stroke="#808080" stroke-width="1.1" />
<polyline points="905.9,1128.2 905.9,1268" fill="none" stroke="#808080" stroke-width="1.1" />
<polyline points="835.7,1306 835.7,1199.9 871.5,1180.4 871.5,1286.5" fill="none" stroke="#808080" stroke-width="1.1" />
<polyline points="840.3,1258 840.3,1202.3 868.5,1186.5 868.5,1244" fill="none" stroke="#808080" stroke-width="1.1" />
<polyline points="848,1128.7 921.4,1085.9" fill="none" stroke="#808080" stroke-width="1.1" />
<polyline points="841.1,1132.5 841.1,1160" fill="none" stroke="#808080" stroke-width="1.1" />
<polyline points="783.3,1276 824.7,1300" fill="none" stroke="#808080" stroke-width="1.1" />
<defs><pattern id="gr" width="2.2" height="8" patternUnits="userSpaceOnUse"><rect width="2.2" height="8" fill="#a0a0a0"/><rect width="1.1" height="8" fill="#3a3a3a"/></pattern></defs>
<polygon points="836.4,1263 867.9,1245.5 867.9,1283.9 836.4,1300.8" fill="url(#gr)" stroke="#666" stroke-width="0.8" />
<polyline points="836.4,1276 867.9,1258.5" fill="none" stroke="#bbb" stroke-width="0.9" />
<polyline points="836.4,1289 867.9,1271.5" fill="none" stroke="#bbb" stroke-width="0.9" />
<polyline points="533.4,1257.3 682.6,1343.7 783.3,1285.6 830.8,1312.9 958.5,1240.4" fill="none" stroke="#060606" stroke-width="2.4" stroke-linejoin="round"/>
<polyline points="958.2,1098.8 958.2,1241" fill="none" stroke="#060606" stroke-width="3.4" />
<polygon points="661,1100.1 618.1,1123.6 618.1,1129.8 661,1106.3" fill="#060606" stroke="none" stroke-width="1" />
<polygon points="618.1,1123.6 590.4,1107.8 590.4,1114 618.1,1129.8" fill="#060606" stroke="none" stroke-width="1" />
<polygon points="590.4,1107.8 535.8,1138.9 535.8,1145.1 590.4,1114" fill="#060606" stroke="none" stroke-width="1" />
<polygon points="629.1,1081.8 701.6,1123.3 701.6,1129.5 629.1,1088" fill="#060606" stroke="none" stroke-width="1" />
<polygon points="701.6,1123.3 638,1158.3 638,1164.5 701.6,1129.5" fill="#060606" stroke="none" stroke-width="1" />
<polygon points="701.6,1123.3 707,1126.4 701.6,1129.5" fill="#060606" stroke="none" stroke-width="1" />
<polygon points="663.6,1099 781.5,1031.5 781.5,1036.5 663.6,1104" fill="#060606" stroke="none" stroke-width="1" />
<polygon points="679.1,1135.8 757.7,1180.2 757.7,1186.6 679.1,1142.2" fill="#060606" stroke="none" stroke-width="1" />
<polygon points="555.5,1148.8 648.1,1200.6 648.1,1207 555.5,1155.2" fill="#060606" stroke="none" stroke-width="1" />
<polygon points="844.1,1127.7 870,1141.9 870,1148.1 844.1,1133.9" fill="#060606" stroke="none" stroke-width="1" />
<polygon points="321,894.6 539.8,1017.4 539.8,1025 321,902.4" fill="#060606" stroke="none" stroke-width="1" />
<polygon points="827.7,1166.2 953.4,1094.7 953.4,1102.9 827.7,1174.4" fill="#060606" stroke="none" stroke-width="1" />
<polygon points="953.4,1094.7 446.4,800.9 446.4,809.1 953.4,1102.9" fill="#060606" stroke="none" stroke-width="1" />
<polygon points="446.4,800.9 316.1,876.2 316.1,884.4 446.4,809.1" fill="#060606" stroke="none" stroke-width="1" />
<polygon points="316.1,878.2 323.3,878.2 323.3,900.3 316.1,900.3" fill="#060606" stroke="none" stroke-width="1" />
<polygon points="323.3,894.1 187.1,972.8 187.1,981 323.3,902.3" fill="#060606" stroke="none" stroke-width="1" />
<polygon points="187.1,974.8 194.3,974.8 194.3,1096 187.1,1096" fill="#060606" stroke="none" stroke-width="1" />
<polygon points="187.2,1087.9 407.4,1215.1 407.4,1224.9 187.2,1097.7" fill="#060606" stroke="none" stroke-width="1" />
<polygon points="953.4,1094.7 960.5,1098.8 953.4,1102.9" fill="#060606" stroke="none" stroke-width="1" />
<polygon points="401.6,1106.5 407.4,1106.5 407.4,1221.5 401.6,1221.5" fill="#060606" stroke="none" stroke-width="1" />
<polygon points="401.6,1104.8 498.5,1049.2 498.5,1055.8 401.6,1111.5" fill="#060606" stroke="none" stroke-width="1" />
<text x="1004.6" y="1169.3" font-size="26.8" textLength="222.3" lengthAdjust="spacingAndGlyphs" fill="#111" stroke="#111" stroke-width="0.7">INTERVENCIÓN</text>
<text x="996.5" y="1514.3" font-size="26.8" textLength="240" lengthAdjust="spacingAndGlyphs" fill="#111" stroke="#111" stroke-width="0.7">PRE-EXISTENCIA</text>
</svg>
</body></html>
